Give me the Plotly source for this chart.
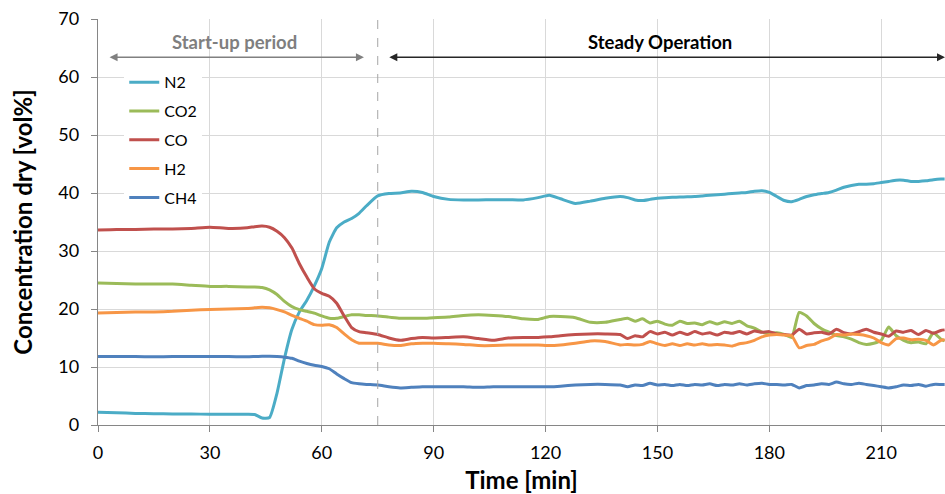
import plotly.graph_objects as go

# Sample times [min]
time_min = [
    0, 5, 10, 15, 20, 25, 30, 35, 40, 42, 44, 46, 48, 50, 52, 54, 56, 58, 60, 62,
    64, 66, 68, 70, 72, 75, 78, 81, 84, 87, 90, 94, 98, 102, 106, 110, 114, 118,
    121, 124, 128, 132, 136,
    140, 142, 144, 146, 148, 150, 152, 154, 156, 158, 160, 162, 164, 166, 168,
    170, 172, 174, 176, 178, 180, 182, 184, 186, 188, 190, 192, 194, 196, 198,
    200, 202, 204, 206, 208, 210, 212, 214, 216, 218, 220, 222, 224, 226, 227,
]

# Dry gas concentrations [vol%]
n2 = [
    2.2, 2.1, 2.0, 1.95, 1.9, 1.9, 1.85, 1.85, 1.85, 1.8, 1.2, 1.3, 5.5, 11.5,
    16.5, 19.5, 21.5, 24.0, 27.0, 31.5, 34.0, 35.0, 35.6, 36.5, 37.8, 39.5, 39.9,
    40.0, 40.3, 40.1, 39.4, 38.9, 38.8, 38.8, 38.85, 38.85, 38.8, 39.2, 39.6,
    39.0, 38.2, 38.6, 39.1,
    39.4, 39.2, 38.8, 38.7, 38.9, 39.1, 39.2, 39.25, 39.3, 39.35, 39.4, 39.5,
    39.6, 39.7, 39.8, 39.9, 40.0, 40.1, 40.3, 40.4, 40.1, 39.4, 38.7, 38.5, 38.9,
    39.4, 39.7, 39.9, 40.1, 40.5, 41.0, 41.3, 41.5, 41.5, 41.6, 41.8, 42.0, 42.2,
    42.2, 42.0, 42.0, 42.1, 42.3, 42.4, 42.4,
]
co2 = [
    24.5, 24.4, 24.3, 24.3, 24.3, 24.1, 23.9, 23.9, 23.8, 23.8, 23.7, 23.3, 22.5,
    21.3, 20.4, 19.9, 19.6, 19.3, 18.8, 18.4, 18.4, 18.7, 19.0, 19.0, 18.9, 18.8,
    18.6, 18.4, 18.4, 18.4, 18.5, 18.6, 18.9, 19.0, 18.9, 18.7, 18.3, 18.2, 18.7,
    18.7, 18.5, 17.7, 17.7,
    18.2, 18.4, 17.9, 18.3, 17.6, 17.9, 17.4, 17.2, 17.9, 17.5, 17.6, 17.3, 17.8,
    17.4, 17.8, 17.5, 17.9, 17.1, 16.7, 16.0, 15.8, 15.9, 15.6, 15.1, 19.4, 18.8,
    17.5, 16.6, 16.0, 15.4, 15.2, 14.8, 14.2, 13.9, 14.1, 14.6, 16.9, 15.4, 14.6,
    14.2, 14.3, 14.0, 15.9, 14.8, 14.5,
]
co = [
    33.6, 33.7, 33.7, 33.8, 33.8, 33.9, 34.1, 33.9, 34.0, 34.2, 34.3, 34.1, 33.4,
    32.3, 30.5, 27.8, 25.5, 23.5, 22.7, 22.2, 21.0, 18.8, 16.8, 16.1, 15.9, 15.6,
    15.0, 14.6, 14.9, 15.1, 15.0, 15.1, 15.2, 14.9, 14.6, 15.0, 15.1, 15.1, 15.2,
    15.4, 15.6, 15.7, 15.7,
    15.6, 14.9, 15.4, 15.2, 16.1, 15.7, 16.0, 15.5, 16.0, 15.6, 16.1, 15.7, 15.9,
    15.5, 16.0, 15.8, 16.1, 15.7, 16.2, 16.0, 16.1, 15.7, 15.6, 15.5, 16.5, 15.7,
    15.9, 16.0, 15.7, 16.5, 15.9, 15.7, 16.1, 16.5, 16.0, 15.7, 15.3, 16.2, 16.0,
    16.3, 15.6, 16.3, 15.8, 16.3, 16.4,
]
h2 = [
    19.3, 19.4, 19.5, 19.5, 19.6, 19.8, 19.9, 20.0, 20.1, 20.2, 20.3, 20.2, 19.9,
    19.5, 18.9, 18.4, 17.9, 17.3, 17.2, 17.3, 16.8, 15.7, 14.7, 14.1, 14.1, 14.1,
    13.8, 13.7, 14.0, 14.1, 14.1, 14.0, 13.9, 13.7, 13.7, 13.8, 13.8, 13.8, 13.7,
    13.8, 14.1, 14.5, 14.4,
    13.8, 13.9, 13.8, 13.9, 14.4, 14.0, 13.7, 14.0, 13.7, 14.0, 13.8, 14.0, 13.8,
    13.9, 13.8, 13.6, 14.0, 14.2, 14.6, 15.2, 15.5, 15.6, 15.5, 15.4, 13.3, 13.7,
    13.9, 14.5, 14.9, 15.6, 15.5, 15.7, 15.6, 15.4, 15.0, 14.2, 13.8, 14.9, 15.0,
    14.7, 14.8, 14.6, 13.8, 14.6, 14.7,
]
ch4 = [
    11.8, 11.8, 11.8, 11.75, 11.8, 11.8, 11.8, 11.8, 11.75, 11.8, 11.85, 11.85,
    11.8, 11.7, 11.5, 11.0, 10.6, 10.3, 10.1, 9.7, 8.8, 8.0, 7.3, 7.1, 7.0, 6.9,
    6.6, 6.4, 6.5, 6.6, 6.6, 6.6, 6.6, 6.5, 6.6, 6.6, 6.6, 6.6, 6.6, 6.7, 6.9,
    7.0, 7.0,
    6.9, 6.6, 6.9, 6.8, 7.2, 6.9, 7.0, 6.8, 7.0, 6.8, 7.0, 6.9, 7.1, 6.8, 7.0,
    6.9, 7.1, 6.9, 7.1, 7.2, 7.0, 7.0, 6.9, 7.0, 6.4, 6.8, 6.9, 7.1, 7.0, 7.4,
    7.1, 7.0, 7.2, 7.0, 6.8, 6.6, 6.4, 6.6, 6.9, 6.8, 7.0, 6.7, 7.0, 7.0, 7.0,
]

series_names = ["N2", "CO2", "CO", "H2", "CH4"]
series_values = [n2, co2, co, h2, ch4]
series_colors = ["#4BACC6", "#9BBB59", "#C0504D", "#F79646", "#4F81BD"]

# Phase boundaries [min]
startup_end = 75
x_max = 227.1

FONT = "Lato"
GRID = "#D9D9D9"
AXIS = "#868686"

fig = go.Figure()
for name, vals, col in zip(series_names, series_values, series_colors):
    fig.add_trace(go.Scatter(
        x=time_min, y=vals, name=name, mode="lines", legendgroup=name,
        line=dict(color=col, width=3, shape="spline", smoothing=0.5),
    ))

# Dashed separator between start-up and steady operation
fig.add_shape(type="line", xref="x", yref="y", x0=startup_end, x1=startup_end,
              y0=0, y1=70, line=dict(color="#A6A6A6", width=1, dash="dash"))

# Phase arrows
fig.add_annotation(x=71.3, y=63.4, ax=2.7, ay=63.4, xref="x", yref="y",
                   axref="x", ayref="y", text="", showarrow=True,
                   arrowhead=2, startarrowhead=2, arrowside="end+start",
                   arrowsize=1, arrowwidth=1.6, arrowcolor="#808080")
fig.add_annotation(x=x_max, y=63.4, ax=77.7, ay=63.4, xref="x", yref="y",
                   axref="x", ayref="y", text="", showarrow=True,
                   arrowhead=2, startarrowhead=2, arrowside="end+start",
                   arrowsize=1, arrowwidth=1.6, arrowcolor="#262626")

# Phase labels
fig.add_annotation(x=36.5, y=66.0, xref="x", yref="y", text="<b>Start-up period</b>",
                   showarrow=False, font=dict(family=FONT, size=18.5, color="#7F7F7F"))
fig.add_annotation(x=150.7, y=66.0, xref="x", yref="y", text="<b>Steady Operation</b>",
                   showarrow=False, font=dict(family=FONT, size=18.5, color="#000000"))

fig.update_layout(
    width=945, height=494,
    margin=dict(l=98, r=0, t=19, b=69, autoexpand=False),
    paper_bgcolor="white", plot_bgcolor="white",
    font=dict(family=FONT, size=18, color="#000000"),
    showlegend=True,
    legend=dict(x=0.031, y=0.886, xanchor="left", yanchor="top",
                bgcolor="white", borderwidth=0, tracegroupgap=5,
                itemwidth=30, font=dict(family=FONT, size=16, color="#000000")),
    xaxis=dict(
        range=[0, x_max], tick0=0, dtick=30, showgrid=True, gridcolor=GRID,
        gridwidth=1, showline=True, linecolor=AXIS, linewidth=1.3,
        ticks="outside", ticklen=6, tickcolor=AXIS, zeroline=False,
        ticklabelstandoff=5,
        title=dict(text="<b>Time [min]</b>", font=dict(family=FONT, size=24),
                   standoff=10),
    ),
    yaxis=dict(
        range=[0, 70], tick0=0, dtick=10, showgrid=True, gridcolor=GRID,
        gridwidth=1, showline=True, linecolor=AXIS, linewidth=1.3,
        ticks="outside", ticklen=6, tickcolor=AXIS, zeroline=False,
        ticklabelstandoff=8,
        title=dict(text="<b>Concentration dry [vol%]</b>",
                   font=dict(family=FONT, size=24), standoff=18),
    ),
)

fig.write_html("out.html")
